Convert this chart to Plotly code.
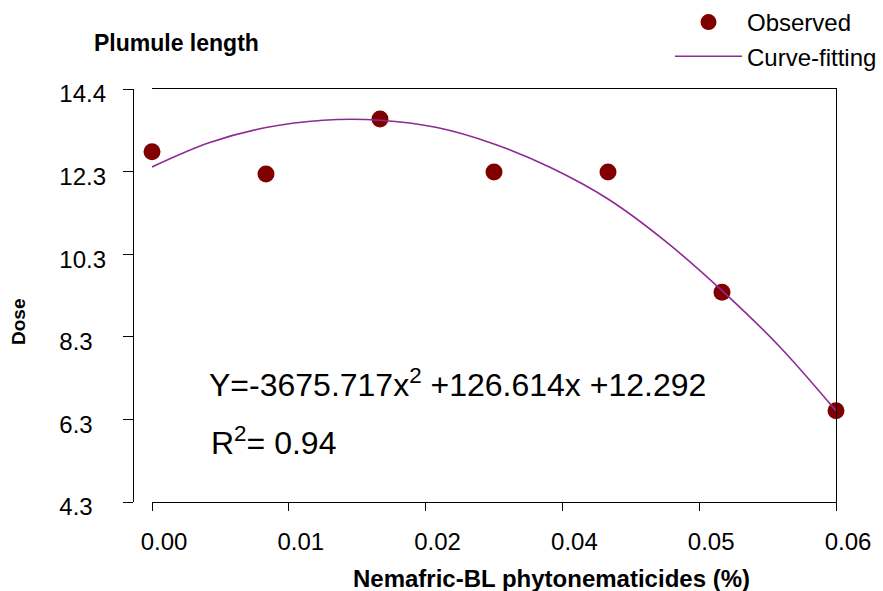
import numpy as np
import plotly.graph_objects as go

# Observed data
dose = [0.00, 0.01, 0.02, 0.03, 0.04, 0.05, 0.06]
plumule = [12.83, 12.29, 13.63, 12.34, 12.34, 9.41, 6.52]

# Curve-fitting line
curve_x = [0.000, 0.005, 0.010, 0.015, 0.020, 0.025, 0.030, 0.035, 0.040, 0.045, 0.050, 0.055, 0.060]
curve_y = [12.46, 13.05, 13.42, 13.60, 13.60, 13.42, 13.02, 12.44, 11.68, 10.66, 9.45, 8.10, 6.52]

x_tick_labels = ["0.00", "0.01", "0.02", "0.04", "0.05", "0.06"]
y_tick_labels = ["4.3", "6.3", "8.3", "10.3", "12.3", "14.4"]

x_min, x_max = 0.0, 0.06
y_min, y_max = 4.3, 14.36

FONT = "Liberation Sans, Arial, sans-serif"
W, H = 883, 591
ML, MR, MT, MB = 133, 47, 89, 89
plot_w = W - ML - MR

# labels in the reference are left-aligned: pad shorter ones with no-break spaces
max_len = max(len(t) for t in y_tick_labels)
y_tick_text = [t + "\u00a0\u00a0" * (max_len - len(t)) for t in y_tick_labels]

fig = go.Figure()
fig.add_trace(go.Scatter(
    x=dose, y=plumule, mode="markers", name="Observed",
    marker=dict(color="#800000", size=17, line=dict(width=0)),
    cliponaxis=False,
))
fig.add_trace(go.Scatter(
    x=curve_x, y=curve_y, mode="lines", name="Curve-fitting",
    line=dict(color="#8E2A96", width=1.6, shape="spline"),
    yaxis="y2", cliponaxis=False,
))

fig.update_layout(
    width=W, height=H,
    margin=dict(l=ML, r=MR, t=MT, b=MB, pad=0, autoexpand=False),
    paper_bgcolor="white", plot_bgcolor="white",
    font=dict(family=FONT, color="#000000"),
    showlegend=True,
    legend=dict(
        xref="container", yref="container",
        x=670 / W, y=1.0, xanchor="left", yanchor="top",
        font=dict(size=24, family=FONT, color="#000"),
        itemwidth=67, tracegroupgap=0, bgcolor="rgba(0,0,0,0)",
    ),
    xaxis=dict(
        domain=[(152 - ML) / plot_w, 1],
        range=[x_min, x_max],
        tickmode="array",
        tickvals=list(np.linspace(x_min, x_max, len(x_tick_labels))),
        ticktext=x_tick_labels,
        ticks="outside", ticklen=8, tickwidth=1, tickcolor="#000",
        showline=True, linecolor="#000", linewidth=1.3, mirror=True,
        showgrid=False, zeroline=False,
        tickfont=dict(size=24, family=FONT, color="#000"),
        ticklabelstandoff=10, ticklabelshift=12,
    ),
    yaxis=dict(
        anchor="free", position=0,
        range=[y_min, y_max],
        tickmode="array",
        tickvals=list(np.linspace(y_min, y_max, len(y_tick_labels))),
        ticktext=y_tick_text,
        ticks="outside", ticklen=10, tickwidth=1, tickcolor="#000",
        showline=True, linecolor="#000", linewidth=1.3,
        showgrid=False, zeroline=False,
        tickfont=dict(size=24, family=FONT, color="#000"),
        ticklabelstandoff=12, ticklabelshift=5,
    ),
    yaxis2=dict(
        overlaying="y", side="right", anchor="x",
        range=[y_min, y_max],
        showline=True, linecolor="#000", linewidth=1.3,
        ticks="", showticklabels=False, showgrid=False, zeroline=False,
    ),
)

annotations = [
    dict(text="<b>Plumule length</b>", x=92, y=43, xanchor="left",
         font=dict(size=23)),
    dict(text="<b>Dose</b>", x=18, y=322, textangle=-90,
         font=dict(size=19)),
    dict(text="<b>Nemafric-BL phytonematicides (%)</b>", x=551, y=578,
         font=dict(size=24)),
    dict(text="Y=-3675.717x<sup>2</sup> +126.614x +12.292", x=207, y=383,
         xanchor="left", font=dict(size=32)),
    dict(text="R<sup>2</sup>= 0.94", x=209, y=441, xanchor="left",
         font=dict(size=32)),
]
for a in annotations:
    fig.add_annotation(
        text=a["text"], xref="paper", yref="paper",
        x=(a["x"] - ML) / plot_w, y=1 - (a["y"] - MT) / (H - MT - MB),
        xanchor=a.get("xanchor", "center"), yanchor="middle",
        textangle=a.get("textangle", 0), showarrow=False,
        font=dict(family=FONT, color="#000", size=a["font"]["size"]),
    )

fig.write_html("out.html")
